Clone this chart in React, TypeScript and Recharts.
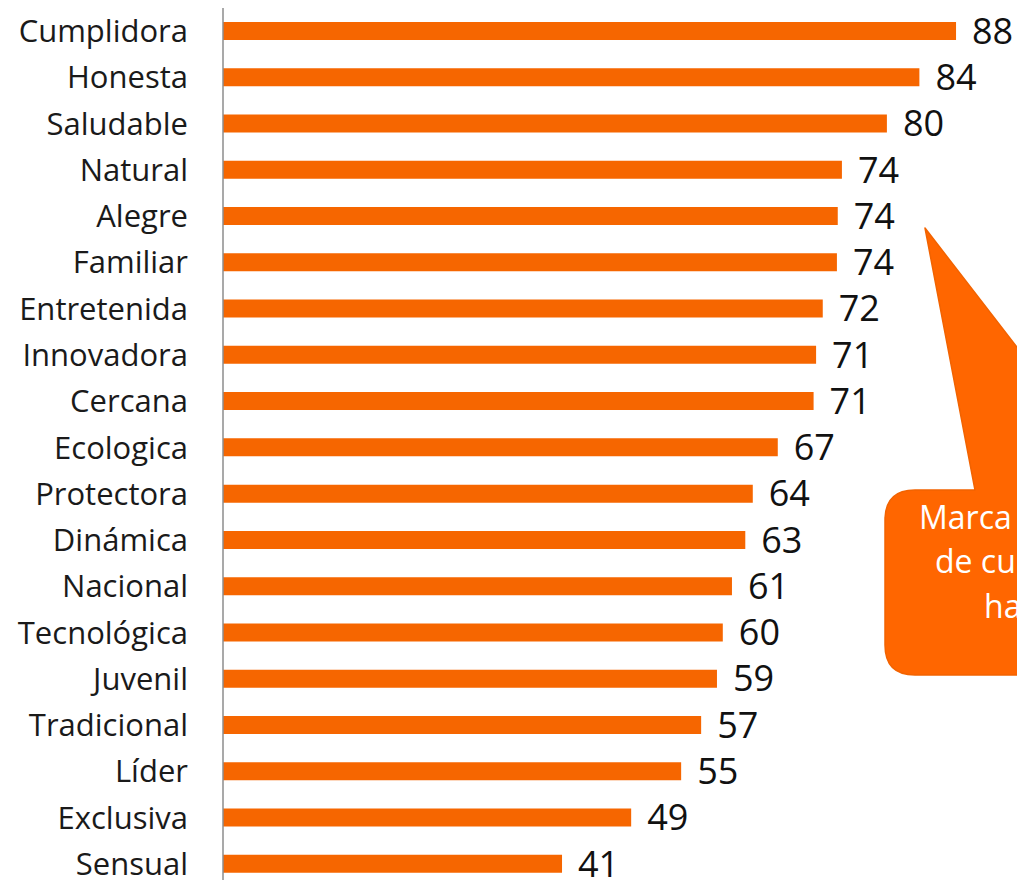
import { Bar, BarChart, LabelList, XAxis, YAxis } from 'recharts'

const attributes = [
  'Cumplidora',
  'Honesta',
  'Saludable',
  'Natural',
  'Alegre',
  'Familiar',
  'Entretenida',
  'Innovadora',
  'Cercana',
  'Ecologica',
  'Protectora',
  'Dinámica',
  'Nacional',
  'Tecnológica',
  'Juvenil',
  'Tradicional',
  'Líder',
  'Exclusiva',
  'Sensual',
]

const scores = [88.0, 83.6, 79.7, 74.3, 73.8, 73.7, 72.0, 71.2, 70.9, 66.6, 63.6, 62.7, 61.1, 60.0, 59.3, 57.4, 55.0, 49.0, 40.7]

const calloutLines = ['Marca', 'de cu', 'ha']

const data = attributes.map((name, i) => ({ name, score: scores[i] }))

const FONT = '"Open Sans", Lato, sans-serif'
const ORANGE = '#F66600'

function Callout() {
  // speech bubble sitting on the right edge, mostly cut off
  return (
    <svg
      width={1009}
      height={872}
      style={{ position: 'absolute', left: 0, top: 0, pointerEvents: 'none' }}
    >
      <path
        d="M907,482 L967,482 L917,220 L1119,482 L1300,482 L1300,667 L907,667 Q877,667 877,637 L877,512 Q877,482 907,482 Z"
        fill="#FF6600"
        stroke="#F26300"
        strokeWidth={1.5}
        strokeLinejoin="round"
      />
      <g fill="#fff" fontFamily={FONT} fontSize={32}>
        <text x={911} y={521}>{calloutLines[0]}</text>
        <text x={927} y={565}>{calloutLines[1]}</text>
        <text x={976} y={610}>{calloutLines[2]}</text>
      </g>
    </svg>
  )
}

export default function App() {
  return (
    <div
      style={{
        position: 'fixed',
        left: 8,
        top: 8,
        width: 1009,
        height: 872,
        overflow: 'hidden',
        background: '#fff',
      }}
    >
      <BarChart
        layout="vertical"
        width={1048}
        height={879}
        data={data}
        margin={{ top: 0, right: 0, bottom: 0, left: 0 }}
        barCategoryGap={0}
      >
        <XAxis type="number" domain={[0, 100]} hide />
        <YAxis
          type="category"
          dataKey="name"
          width={215}
          tickSize={0}
          tickMargin={35}
          tickLine={false}
          axisLine={{ stroke: '#8c8c8c', strokeWidth: 1.5 }}
          interval={0}
          tick={{ fill: '#1a1a1a', fontSize: 31, fontFamily: FONT }}
        />
        <Bar dataKey="score" fill={ORANGE} barSize={18} isAnimationActive={false}>
          <LabelList
            dataKey="score"
            position="right"
            offset={16}
            formatter={(v: any) => Math.round(Number(v))}
            style={{ fill: '#111', fontSize: 36, fontFamily: FONT }}
          />
        </Bar>
      </BarChart>
      <Callout />
    </div>
  )
}
